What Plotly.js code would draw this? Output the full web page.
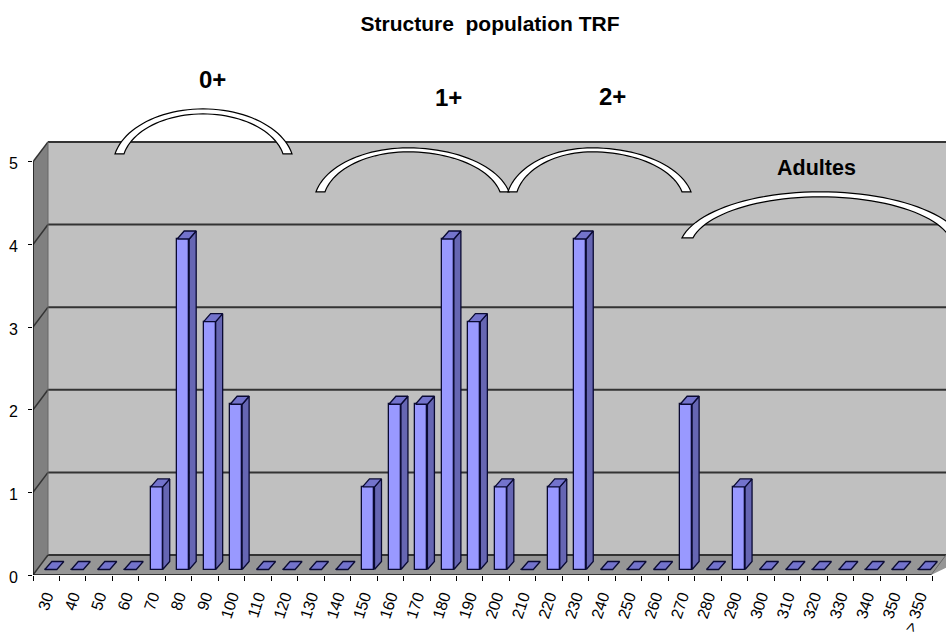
<!DOCTYPE html>
<html><head><meta charset="utf-8">
<script src="https://cdn.plot.ly/plotly-3.0.1.min.js"></script>
<style>html,body{margin:0;padding:0;background:#fff;overflow:hidden}</style>
</head><body><div id="chart" style="width:946px;height:634px"></div>
<script>
const categories = ["30","40","50","60","70","80","90","100","110","120","130","140","150","160","170","180","190","200","210","220","230","240","250","260","270","280","290","300","310","320","330","340","350","> 350"];
const counts = [0,0,0,0,1,4,3,2,0,0,0,0,1,2,2,4,3,1,0,1,4,0,0,0,2,0,1,0,0,0,0,0,0,0];
const yTicks = [0,1,2,3,4,5];
const groupLabels = ["0+","1+","2+","Adultes"];

// layout geometry (pixels of the page)
const W=946,H=634,L=33,Y0=575.5,BAND=26.47,UNIT=82.7;
const xMin=-0.5, xMax=xMin+(W-L)/BAND, yMax=Y0/UNIT;
const wallDX=15/BAND, wallDY=20/UNIT;
const barW=12/BAND, barOff=-1.4/BAND, barBase=5.5/UNIT, depthX=7/BAND, depthY=8/UNIT;
const idx=categories.map((_,i)=>i);
const px=(x,y)=>[(x-L)/(W-L),(Y0-y)/Y0];

// faces of the pseudo-3D bars computed from the values
const sideX=[],sideY=[],topX=[],topY=[];
counts.forEach((v,i)=>{
  const l=i+barOff,r=l+barW,t=barBase+v;
  topX.push(l,r,r+depthX,l+depthX,l,null); topY.push(t,t,t+depthY,t+depthY,t,null);
  if(v>0){ sideX.push(r,r+depthX,r+depthX,r,r,null); sideY.push(barBase,barBase+depthY,t+depthY,t,barBase,null); }
});
const edge={color:'#0a0a33',width:1.3};
const traces=[
 {type:'bar',x:idx,y:counts,base:barBase,width:barW,offset:barOff,marker:{color:'#9999ff',line:edge},hoverinfo:'skip'},
 {type:'scatter',mode:'lines',x:sideX,y:sideY,fill:'toself',fillcolor:'#6666b3',line:edge,hoverinfo:'skip'},
 {type:'scatter',mode:'lines',x:topX,y:topY,fill:'toself',fillcolor:'#7373cc',line:edge,hoverinfo:'skip'}
];

const shapes=[];
const poly=(pts,fill)=>shapes.push({type:'path',xref:'x',yref:'y',layer:'below',line:{width:0},fillcolor:fill,
  path:'M'+pts.map(p=>p[0]+','+p[1]).join(' L')+' Z'});
const seg=(a,b,c,w)=>shapes.push({type:'line',xref:'x',yref:'y',layer:'below',x0:a[0],y0:a[1],x1:b[0],y1:b[1],line:{color:c,width:w}});
const wx=xMin+wallDX;
poly([[wx,wallDY],[xMax+1,wallDY],[xMax+1,5+wallDY],[wx,5+wallDY]],'#c0c0c0');
poly([[xMin,0],[wx,wallDY],[wx,5+wallDY],[xMin,5]],'#808080');
poly([[xMin,0],[wx,wallDY],[xMax+1,wallDY],[xMax-wallDX,0]],'#969696');
yTicks.forEach(v=>{
  seg([wx,v+wallDY],[xMax+1,v+wallDY],'#333333',2);
  seg([xMin,v],[wx,v+wallDY],'#333333',1.5);
});
seg([wx,wallDY],[wx,5+wallDY],'#666666',1);
seg([xMin,0],[xMin,5],'#111111',1.5);
seg([xMin,0],[xMax-wallDX,0],'#111111',1.5);
seg([xMax-wallDX,0],[xMax,wallDY],'#666666',1);

// decorative brackets (elliptic crescents), in paper space
const PHI=78*Math.PI/180;
function side(cx,xFoot,yF,top,n,rev){
  const h=yF-top, b=h/(1-Math.cos(PHI)), a=(xFoot-cx)/Math.sin(PHI), out=[];
  for(let k=0;k<=n;k++){const f=PHI*(rev?n-k:k)/n; out.push([cx+a*Math.sin(f),top+b*(1-Math.cos(f))]);}
  return out;
}
function arc(x0,x1,x2,x3,yF,cx,tOut,tIn){
  const pts=[].concat(side(cx,x0,yF,tOut,24,true),side(cx,x3,yF,tOut,24,false),side(cx,x2,yF,tIn,24,true),side(cx,x1,yF,tIn,24,false));
  const d='M'+pts.map(p=>px(p[0],p[1]).join(',')).join(' L')+' Z';
  shapes.push({type:'path',xref:'paper',yref:'paper',layer:'above',path:d,fillcolor:'#ffffff',line:{color:'#000000',width:1.2}});
}
arc(115,124,283,292,154,203,109,114);
arc(316,325,500,509,192,408,148,152);
arc(508,517,682,691,192,592,148,152);
arc(682,693,950,962,238,820,192,197);

const labelPos=[[212,80,24],[448,98,24],[612,97,24],[816.5,168,21.5]];
const annotations=groupLabels.map((t,i)=>{
  const p=px(labelPos[i][0],labelPos[i][1]);
  return {text:'<b>'+t+'</b>',xref:'paper',yref:'paper',x:p[0],y:p[1],xanchor:'center',yanchor:'middle',showarrow:false,
    font:{family:'Liberation Sans',size:labelPos[i][2],color:'#000'}};
});

const layout={
 width:W,height:H,margin:{l:L,r:0,t:0,b:H-Y0,pad:0},paper_bgcolor:'#fff',plot_bgcolor:'#fff',showlegend:false,bargap:0,
 font:{family:'Liberation Sans',color:'#000'},
 title:{text:'<b>Structure  population TRF</b>',x:490/W,xanchor:'center',y:1-24/H,yanchor:'middle',font:{family:'Liberation Sans',size:21,color:'#000'}},
 xaxis:{type:'linear',range:[xMin,xMax],showgrid:false,zeroline:false,showline:false,
   tickmode:'array',tickvals:idx,ticktext:categories,tickangle:-72,ticks:'',ticklen:0,ticklabelstandoff:8,ticklabelshift:-1.5,tickfont:{size:16,color:'#000'},automargin:false,
   minor:{tickmode:'array',tickvals:idx.map(i=>i-0.5).concat([idx.length-0.5]),ticks:'outside',ticklen:5,tickwidth:1.2,tickcolor:'#000',showgrid:false}},
 yaxis:{type:'linear',range:[0,yMax],showgrid:false,zeroline:false,showline:false,
   tickmode:'array',tickvals:yTicks,ticks:'outside',ticklen:4,tickwidth:1.2,tickcolor:'#000',tickfont:{size:16,color:'#000'},ticklabelstandoff:7,ticklabelshift:2,automargin:false},
 shapes,annotations
};
Plotly.newPlot('chart',traces,layout,{displayModeBar:false,responsive:false});
</script></body></html>
